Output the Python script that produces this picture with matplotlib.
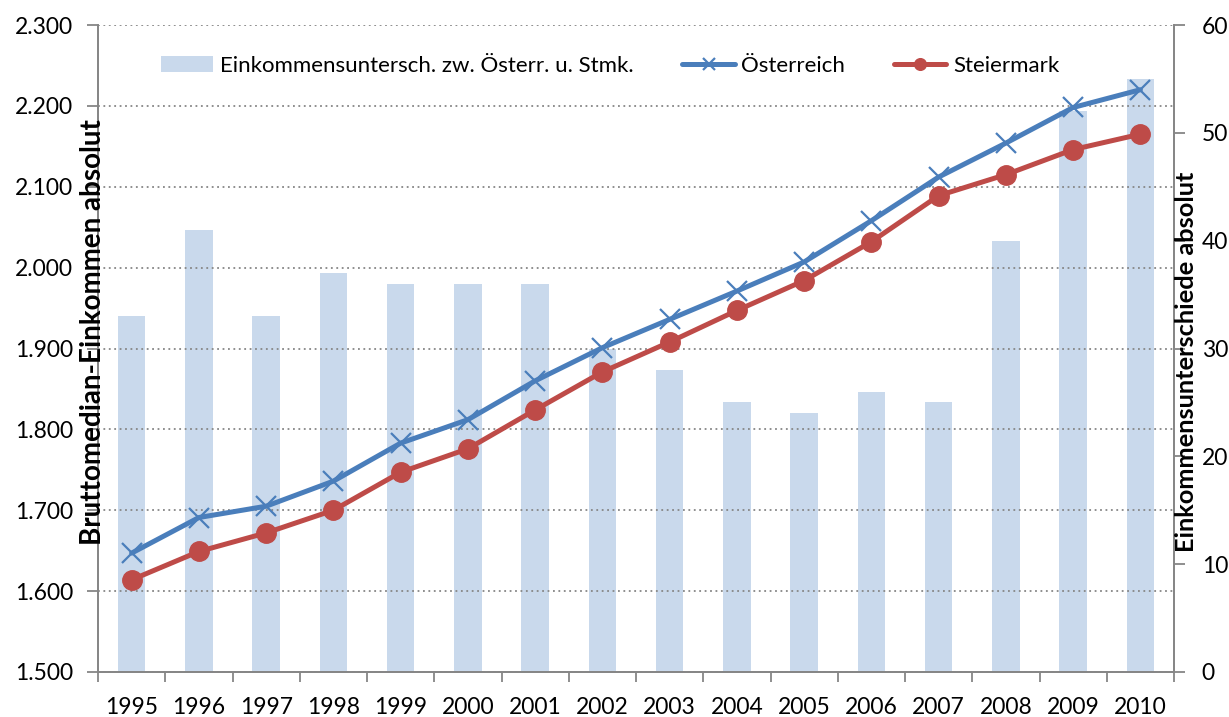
import matplotlib
matplotlib.use("Agg")
import matplotlib.pyplot as plt
from matplotlib.ticker import FuncFormatter, FixedLocator
import numpy as np

years = ["1995", "1996", "1997", "1998", "1999", "2000", "2001", "2002",
         "2003", "2004", "2005", "2006", "2007", "2008", "2009", "2010"]
oesterreich = [1647, 1691, 1705, 1736, 1783, 1812, 1860, 1901,
               1936, 1971, 2007, 2058, 2112, 2154, 2198, 2220]
steiermark = [1614, 1649, 1672, 1700, 1747, 1776, 1824, 1871,
              1908, 1947, 1984, 2032, 2089, 2115, 2146, 2165]
differenz = [33, 41, 33, 37, 36, 36, 36, 30, 28, 25, 24, 26, 25, 40, 52, 55]

label_bar = "Einkommensuntersch. zw. Österr. u. Stmk."
label_oe = "Österreich"
label_st = "Steiermark"
ylabel_left = "Bruttomedian-Einkommen absolut"
ylabel_right = "Einkommensunterschiede absolut"

plt.rcParams['font.family'] = ['Lato', 'DejaVu Sans']

fig = plt.figure(figsize=(12.29, 7.17), dpi=100)
ax = fig.add_axes([98/1229, 1 - 672/717, (1174-98)/1229, (672-25)/717])
ax2 = ax.twinx()
ax.set_zorder(ax2.get_zorder() + 1)
ax.patch.set_visible(False)

x = np.arange(len(years))
bars = ax2.bar(x, differenz, width=0.41, color="#C9D9EC", label=label_bar, zorder=1)
l1, = ax.plot(x, oesterreich, color="#4A7EBB", lw=3.6, marker="x", markersize=14,
              mew=1.6, label=label_oe, solid_capstyle="round", zorder=3)
l2, = ax.plot(x, steiermark, color="#BE4B48", lw=3.6, marker="o", markersize=14,
              label=label_st, solid_capstyle="round", zorder=4)

ax.set_xlim(-0.5, len(years) - 0.5)
ax.set_ylim(1500, 2300)
ax2.set_ylim(0, 60)
ax.set_yticks(np.arange(1500, 2301, 100))
ax2.set_yticks(np.arange(0, 61, 10))
ax.yaxis.set_major_formatter(FuncFormatter(lambda v, p: f"{v:,.0f}".replace(",", ".")))

ax.set_xticks(x)
ax.set_xticklabels(years)
ax.xaxis.set_minor_locator(FixedLocator(np.arange(-0.5, len(years), 1.0)))
ax.tick_params(axis="x", which="major", length=0, pad=18, labelsize=16.5)
ax.tick_params(axis="x", which="minor", length=7, width=1.3, color="#868686", direction="out")
ax.tick_params(axis="y", length=8, width=1.3, color="#868686", labelsize=16.5, pad=10)
ax2.tick_params(axis="y", length=8, width=1.3, color="#868686", labelsize=16.5, pad=12)
ax2.tick_params(axis="x", length=0)

ax.grid(axis="y", color="#868686", linestyle=(0, (1, 2)), linewidth=1.3)
ax.set_axisbelow(False)

for a in (ax, ax2):
    a.spines["top"].set_visible(False)
    for s in ("left", "right", "bottom"):
        a.spines[s].set_color("#868686")
        a.spines[s].set_linewidth(1.3)

fig.text(93/1229, 1 - 332/717, ylabel_left, rotation=90, ha="center", va="center",
         fontsize=20, fontweight="bold")
fig.text(1186/1229, 1 - 362/717, ylabel_right, rotation=90, ha="center", va="center",
         fontsize=18.3, fontweight="bold")

leg = ax.legend([bars, l1, l2], [label_bar, label_oe, label_st], ncol=3,
                loc="center", bbox_to_anchor=(0.476, 1 - (66 - 25) / (672 - 25)), frameon=False,
                fontsize=16, handlelength=2.35, handletextpad=0.3, columnspacing=2.2,
                markerscale=0.6)

fig.savefig("out.png", dpi=100)
